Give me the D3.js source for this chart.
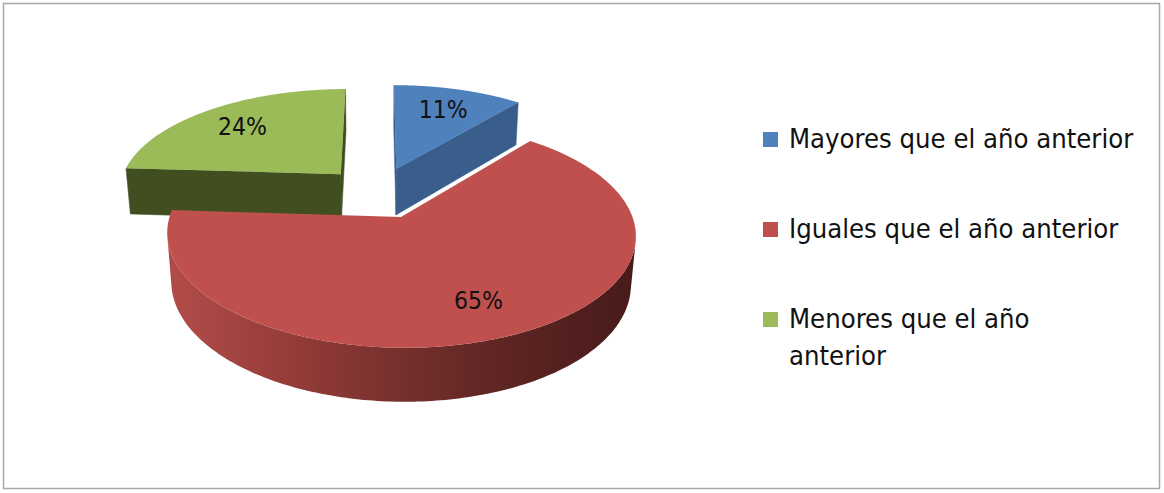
<!DOCTYPE html>
<html><head><meta charset="utf-8">
<script src="https://cdn.jsdelivr.net/npm/d3@7"></script>
<style>
body{margin:0;background:#fff}
text{font-family:"DejaVu Sans Condensed","DejaVu Sans",sans-serif;font-stretch:condensed}
</style>
</head><body>
<svg id="chart" width="1164" height="493"></svg>
<script>
// ---- data ----
const categories = ["Mayores que el año anterior", "Iguales que el año anterior", "Menores que el año anterior"];
const values = [11, 65, 24];
const valueLabels = ["11%", "65%", "24%"];
const legendLines = [["Mayores que el año anterior"], ["Iguales que el año anterior"], ["Menores que el año", "anterior"]];
const topColors = ["#4f81bd", "#c0504d", "#9bbb59"];
const sideColors = ["#3a5e8b", "#8c3a38", "#414f20"];

const svg = d3.select("#chart");
svg.append("rect").attr("x", 3.5).attr("y", 3.5).attr("width", 1156).attr("height", 485)
  .attr("fill", "#fff").attr("stroke", "#a9a9a9").attr("stroke-width", 1.5);

// ---- 3D projection ----
const cx = 378, cy = 192.5, G = 223.5, k = 0.15;
const sinA = 103 / 225, cosA = Math.sqrt(1 - sinA * sinA);
const dd = cosA / k, F = G * dd;
const T = 0.2395, explode = 0.25, labelR = 0.73;
function proj(X, Y, Z) {
  const depth = dd + Z * cosA - Y * sinA;
  const up = Y * cosA + Z * sinA;
  return [cx + F * X / depth, cy - (F * 225 / G) * sinA * 0 - F * up / depth * (225 / G)];
}
const camDist = dd * cosA;

const topColor = d3.scaleOrdinal().domain(categories).range(topColors);
const sideColor = d3.scaleOrdinal().domain(categories).range(sideColors);

const arcs = d3.pie().sort(null).value(d => d)(values).map((a, i) => {
  const mid = (a.startAngle + a.endAngle) / 2;
  return Object.assign(a, {
    cat: categories[i], label: valueLabels[i], mid,
    xs: explode * Math.sin(mid), zs: explode * Math.cos(mid)
  });
});

const line = d3.line().curve(d3.curveLinearClosed);
const N = 240;

const defs = svg.append("defs");
const grad = defs.append("linearGradient").attr("id", "wallGrad")
  .attr("gradientUnits", "userSpaceOnUse").attr("x1", 170).attr("x2", 632).attr("y1", 0).attr("y2", 0);
[[0, "#b24c49"], [0.28, "#923b38"], [0.5, "#76302d"], [0.72, "#5e2523"], [1, "#481b1a"]]
  .forEach(([o, c]) => grad.append("stop").attr("offset", o).attr("stop-color", c));

const order = arcs.slice().sort((a, b) => b.zs - a.zs);
const g = svg.append("g");
order.forEach(a => {
  const { xs, zs } = a;
  const rim = (t, Y) => proj(xs + Math.sin(t), Y, zs + Math.cos(t));
  const ctr = Y => proj(xs, Y, zs);
  const sVis = xs * Math.cos(a.startAngle) - Math.sin(a.startAngle) * (camDist + zs) > 0;
  const eVis = -xs * Math.cos(a.endAngle) + Math.sin(a.endAngle) * (camDist + zs) > 0;
  [[a.startAngle, sVis], [a.endAngle, eVis]].forEach(([t, vis]) => {
    if (!vis) return;
    g.append("path").attr("d", line([ctr(0), rim(t, 0), rim(t, -T), ctr(-T)]))
      .attr("fill", sideColor(a.cat)).attr("stroke", sideColor(a.cat)).attr("stroke-width", 0.5);
  });
  const vis = [];
  for (let j = 0; j <= N; j++) {
    const t = a.startAngle + (a.endAngle - a.startAngle) * j / N;
    const dot = -Math.sin(t) * xs - 1 - Math.cos(t) * (camDist + zs);
    if (dot > 0) vis.push(t);
  }
  if (vis.length > 1) {
    const topPts = vis.map(t => rim(t, 0));
    const botPts = vis.slice().reverse().map(t => rim(t, -T));
    g.append("path").attr("d", line(topPts.concat(botPts)))
      .attr("fill", a.cat === categories[1] ? "url(#wallGrad)" : sideColor(a.cat));
  }
  const pts = [ctr(0)];
  for (let j = 0; j <= N; j++) {
    const t = a.startAngle + (a.endAngle - a.startAngle) * j / N;
    pts.push(rim(t, 0));
  }
  g.append("path").attr("d", line(pts)).attr("fill", topColor(a.cat));
});

// labels
arcs.forEach(a => {
  const p = proj(a.xs + labelR * Math.sin(a.mid), 0, a.zs + labelR * Math.cos(a.mid));
  svg.append("text").attr("x", p[0]).attr("y", p[1] + 9).attr("text-anchor", "middle")
    .attr("font-size", 24.5).attr("fill", "#111").text(a.label);
});

// legend
const ly = d3.scalePoint().domain(categories).range([148, 328]);
const lg = svg.append("g");
categories.forEach((c, i) => {
  const y = ly(c);
  lg.append("rect").attr("x", 763).attr("y", y - 16).attr("width", 15).attr("height", 15).attr("fill", topColor(c));
  const t = lg.append("text").attr("x", 789).attr("y", y).attr("font-size", 27.2).attr("fill", "#111");
  legendLines[i].forEach((s, j) => t.append("tspan").attr("x", 789).attr("dy", j === 0 ? 0 : 37).text(s));
});
</script>
</body></html>
